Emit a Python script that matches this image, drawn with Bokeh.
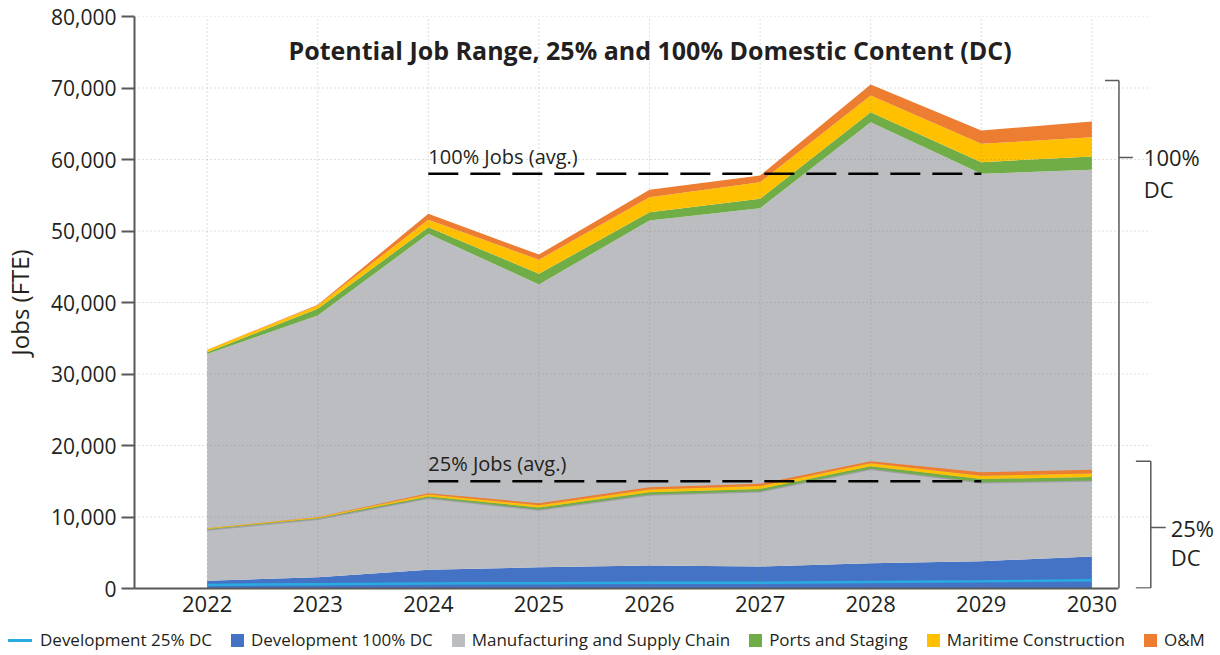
import numpy as np
from bokeh.plotting import figure
from bokeh.layouts import column
from bokeh.models import (ColumnDataSource, FixedTicker, NumeralTickFormatter,
                          Label, Div)
from bokeh.embed import file_html
from bokeh.resources import INLINE

# ---------------- data ----------------
years = [2022, 2023, 2024, 2025, 2026, 2027, 2028, 2029, 2030]

# 100% domestic content scenario (stacked)
dev_100 = [1070, 1580, 2610, 2980, 3220, 3080, 3540, 3820, 4480]
manuf_100 = [31730, 36600, 46990, 39540, 48250, 50110, 61680, 54180, 54080]
ports_100 = [250, 930, 940, 1490, 1160, 1310, 1400, 1630, 1860]
maritime_100 = [300, 470, 1020, 1960, 2100, 2330, 2330, 2560, 2700]
om_100 = [50, 100, 840, 740, 1030, 930, 1540, 1870, 2190]

# 25% domestic content scenario (stacked)
dev_25 = [500, 600, 700, 750, 800, 800, 900, 1000, 1150]
manuf_25 = [7750, 9150, 11980, 10300, 12350, 12810, 15840, 13870, 13950]
ports_25 = [70, 90, 200, 280, 300, 320, 350, 450, 480]
maritime_25 = [100, 120, 250, 330, 380, 400, 420, 450, 520]
om_25 = [20, 30, 200, 270, 340, 310, 290, 500, 500]

avg_100 = 58000
avg_25 = 15000
avg_years = [2024, 2029]

y_ticks = [0, 10000, 20000, 30000, 40000, 50000, 60000, 70000, 80000]

series_labels = ["Development 25% DC", "Development 100% DC",
                 "Manufacturing and Supply Chain", "Ports and Staging",
                 "Maritime Construction", "O&M"]

# ---------------- style ----------------
C_DEV25 = "#29abe2"
C_DEV100 = "#4472c4"
C_MANUF = "#bcbdc0"
C_PORTS = "#70ad47"
C_MAR = "#ffc000"
C_OM = "#ed7d31"
TXT = "#231f20"
AXC = "#58595b"
FONT = "Open Sans"

X0, X1 = 2021.343, 2031.127
GRID_END = 2030.533
AXIS_END = 2030.245

p = figure(width=1220, height=626, x_range=(X0, X1), y_range=(0, 80000),
           output_backend="svg", toolbar_location=None,
           min_border_left=129, min_border_right=4, min_border_top=16,
           min_border_bottom=38, outline_line_color=None)
p.xgrid.visible = False
p.ygrid.visible = False

# 100% stack
src100 = ColumnDataSource(dict(year=years, dev_100=dev_100, manuf_100=manuf_100,
                               ports_100=ports_100, maritime_100=maritime_100,
                               om_100=om_100))
p.varea_stack(stackers=["dev_100", "manuf_100", "ports_100", "maritime_100", "om_100"],
              x="year", color=[C_DEV100, C_MANUF, C_PORTS, C_MAR, C_OM],
              source=src100)

# 25% stack bands
b0 = np.array(dev_25) + np.array(manuf_25)
b1 = b0 + np.array(ports_25)
b2 = b1 + np.array(maritime_25)
b3 = b2 + np.array(om_25)
p.line(years, b0, line_color="#9fa0a3", line_width=2.5)
p.varea(x=years, y1=b0, y2=b1, color=C_PORTS)
p.varea(x=years, y1=b1, y2=b2, color=C_MAR)
p.varea(x=years, y1=b2, y2=b3, color=C_OM)
p.line(years, dev_25, line_color=C_DEV25, line_width=2.5)

# grid lines (dotted, on top)
hy = y_ticks[1:]
p.segment(x0=[X0] * len(hy), x1=[GRID_END] * len(hy), y0=hy, y1=hy,
          line_color="#7f7f7f", line_alpha=0.5, line_dash="1 3", line_width=1)
p.segment(x0=years, x1=years, y0=[0] * len(years), y1=[80000] * len(years),
          line_color="#7f7f7f", line_alpha=0.5, line_dash="1 3", line_width=1)

# average lines
p.segment(x0=[avg_years[0]] * 2, x1=[avg_years[1]] * 2, y0=[avg_100, avg_25],
          y1=[avg_100, avg_25], line_color="black", line_width=2.5, line_dash="30 12")
for val, txt in [(avg_100, "100% Jobs (avg.)"), (avg_25, "25% Jobs (avg.)")]:
    p.add_layout(Label(x=avg_years[0], y=val, text=txt, y_offset=4,
                       text_baseline="bottom", text_font=FONT,
                       text_font_size="20px", text_color=TXT))

# brackets
top100 = max(b + m + pt + mr + o for b, m, pt, mr, o in
             zip(dev_100, manuf_100, ports_100, maritime_100, om_100)) + 560
top25 = float(b3.max())
p.segment(x0=[2030.119, AXIS_END, AXIS_END], x1=[AXIS_END, AXIS_END, 2030.371],
          y0=[top100, top100, 60280], y1=[top100, 0, 60280],
          line_color=AXC, line_width=1.5)
p.segment(x0=[2030.398, GRID_END, 2030.398, GRID_END],
          x1=[GRID_END, GRID_END, GRID_END, 2030.668],
          y0=[top25, top25, 60, 8530], y1=[top25, 60, 60, 8530],
          line_color=AXC, line_width=1.5)
for x, y, t in [(2030.47, 60280, "100%"), (2030.47, 55940, "DC"),
                (2030.713, 8530, "25%"), (2030.713, 4340, "DC")]:
    p.add_layout(Label(x=x, y=y, text=t, text_baseline="middle", text_font=FONT,
                       text_font_size="22px", text_color=TXT))

# title
p.add_layout(Label(x=2026.005, y=75245, text="Potential Job Range, 25% and 100% Domestic Content (DC)",
                   text_align="center", text_baseline="middle", text_font=FONT,
                   text_font_size="25px", text_font_style="bold", text_color=TXT))

# axes
p.yaxis.ticker = FixedTicker(ticks=y_ticks)
p.yaxis.formatter = NumeralTickFormatter(format="0,0")
p.yaxis.axis_label = "Jobs (FTE)"
p.yaxis.axis_label_text_font = FONT
p.yaxis.axis_label_text_font_size = "24px"
p.yaxis.axis_label_text_font_style = "normal"
p.yaxis.axis_label_text_color = TXT
p.yaxis.axis_label_standoff = 12
p.yaxis.major_tick_out = 13
p.yaxis.major_tick_in = 0
p.yaxis.minor_tick_line_color = None
p.yaxis.major_label_standoff = 5
p.yaxis.major_label_text_font_size = "21px"

p.xaxis.ticker = FixedTicker(ticks=years)
p.xaxis.bounds = (X0, AXIS_END)
p.xaxis.major_tick_out = 0
p.xaxis.minor_tick_line_color = None
p.xaxis.major_label_standoff = 7
p.xaxis.major_label_text_font_size = "22px"

for ax in (p.xaxis, p.yaxis):
    ax.axis_line_color = AXC
    ax.axis_line_width = 2
    ax.major_tick_line_width = 2
    ax.major_label_text_font = FONT
    ax.major_label_text_color = TXT
p.yaxis.major_tick_line_color = AXC
p.xaxis.major_tick_line_color = None

# legend strip below the chart
legend_colors = [C_DEV25, C_DEV100, C_MANUF, C_PORTS, C_MAR, C_OM]
parts = []
for i, (lab, col) in enumerate(zip(series_labels, legend_colors)):
    gap = "0" if i == 0 else "19px"
    if i == 0:
        sym = (f'<span style="display:inline-block;width:24px;height:3px;'
               f'background:{col};margin-right:8px;"></span>')
    else:
        sym = (f'<span style="display:inline-block;width:13px;height:13px;'
               f'background:{col};margin-right:7px;"></span>')
    parts.append(f'<span style="display:inline-flex;align-items:center;margin-left:{gap};">'
                 f'{sym}<span>{lab.replace("&", "&amp;")}</span></span>')
html = (f'<div style="display:flex;align-items:center;height:29px;padding-left:8px;'
        f'font-family:\'{FONT}\';font-size:17px;color:{TXT};white-space:nowrap;">'
        + "".join(parts) + '</div>')
leg = Div(text=html, width=1220, height=29, margin=0)

layout = column(p, leg, spacing=0)
open("out.html", "w").write(file_html(layout, INLINE))
